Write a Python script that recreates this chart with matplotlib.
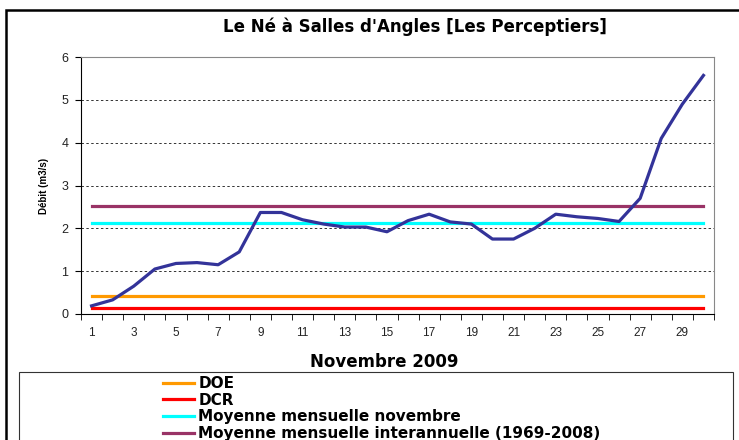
import numpy as np
import matplotlib.pyplot as plt
from matplotlib.patches import Rectangle

plt.rcParams['font.family'] = ['Liberation Sans', 'DejaVu Sans']

# données
jours = np.arange(1, 31)
debit = [0.19, 0.33, 0.65, 1.05, 1.18, 1.2, 1.15, 1.45, 2.37, 2.37,
         2.2, 2.1, 2.03, 2.03, 1.92, 2.18, 2.33, 2.15, 2.1, 1.75,
         1.75, 2.0, 2.33, 2.27, 2.23, 2.16, 2.7, 4.1, 4.9, 5.57]
doe = 0.41
dcr = 0.13
moy_nov = 2.12
moy_inter = 2.51

W, H = 739, 440
fig = plt.figure(figsize=(W / 100, H / 100), dpi=100)
ax = fig.add_axes([81 / W, 1 - 314 / H, (714 - 81) / W, (314 - 57) / H])

# lignes de référence
l1, = ax.plot(jours, [doe] * 30, color='#FF9900', lw=2.3, label='DOE')
l2, = ax.plot(jours, [dcr] * 30, color='#FF0000', lw=2.3, label='DCR')
l3, = ax.plot(jours, [moy_nov] * 30, color='#00FFFF', lw=2.3,
              label='Moyenne mensuelle novembre')
l4, = ax.plot(jours, [moy_inter] * 30, color='#993366', lw=2.3,
              label='Moyenne mensuelle interannuelle (1969-2008)')
ax.plot(jours, debit, color='#333399', lw=2.3, zorder=5)

ax.set_xlim(0.5, 30.5)
ax.set_ylim(0, 6)
ax.set_yticks(range(0, 7))
ax.set_xticks(jours[::2])
ax.set_xticks(np.arange(0.5, 31), minor=True)
ax.tick_params(axis='x', which='major', length=0, pad=9, labelsize=8.5,
               labelcolor='#222222')
ax.tick_params(axis='x', which='minor', length=4, direction='out')
ax.tick_params(axis='y', length=4, direction='out', labelsize=9, pad=5,
               labelcolor='#222222')
for y in range(1, 6):
    ax.axhline(y, color='#333333', lw=0.7, ls=(0, (2.5, 2.5)), zorder=1)

ax.spines['left'].set_color('black')
ax.spines['bottom'].set_color('black')
ax.spines['top'].set_color('#888888')
ax.spines['right'].set_color('#888888')

ax.set_ylabel('Débit (m3/s)', fontsize=7, fontweight='bold', labelpad=9)

gras = ['DejaVu Sans']
fig.text(414.7 / W, 1 - 27 / H, "Le Né à Salles d'Angles [Les Perceptiers]",
         ha='center', va='center', fontsize=12, fontweight='bold', family=gras)
fig.text(384 / W, 1 - 362 / H, 'Novembre 2009',
         ha='center', va='center', fontsize=12, fontweight='bold', family=gras)

# cadres
fig.patches.append(Rectangle((5.5 / W, -0.1), 1.2, 1.1 - 10.5 / H,
                             transform=fig.transFigure, fill=False,
                             ec='black', lw=1.8))
fig.patches.append(Rectangle((19 / W, -0.1), (733 - 19) / W, 0.1 + 1 - 372 / H,
                             transform=fig.transFigure, fill=False,
                             ec='#333333', lw=0.8))

leg = fig.legend(handles=[l1, l2, l3, l4], loc='upper left',
                 bbox_to_anchor=(163 / W, 1 - 376 / H), frameon=False,
                 prop={'size': 11, 'weight': 'bold', 'family': gras},
                 handlelength=2.0, handletextpad=0.3, labelspacing=0.11,
                 borderpad=0, borderaxespad=0)

fig.savefig('out.png', dpi=100)
